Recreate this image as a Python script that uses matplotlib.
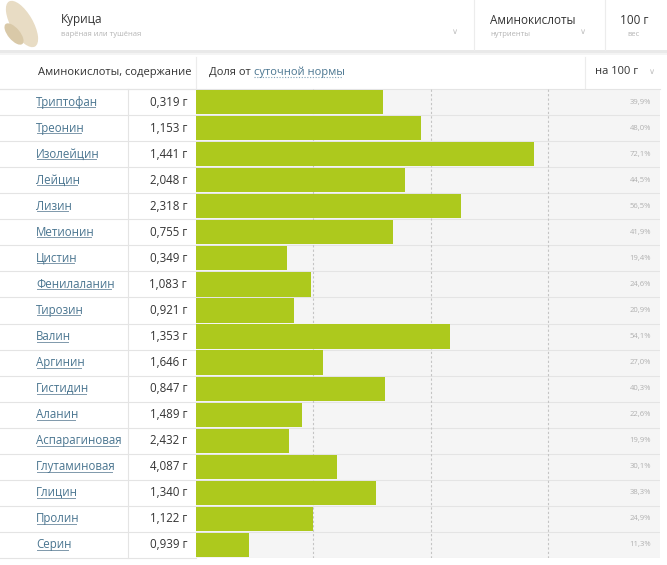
import numpy as np
import matplotlib
matplotlib.use('Agg')
from matplotlib import pyplot as plt
from matplotlib import transforms
from matplotlib.patches import Rectangle, Ellipse

plt.rcParams['font.family'] = ['Open Sans', 'DejaVu Sans']

#################
# the data      #
#################
names = ['Триптофан', 'Треонин', 'Изолейцин', 'Лейцин', 'Лизин', 'Метионин',
         'Цистин', 'Фенилаланин', 'Тирозин', 'Валин', 'Аргинин', 'Гистидин',
         'Аланин', 'Аспарагиновая', 'Глутаминовая', 'Глицин', 'Пролин', 'Серин']
grams = ['0,319 г', '1,153 г', '1,441 г', '2,048 г', '2,318 г', '0,755 г',
         '0,349 г', '1,083 г', '0,921 г', '1,353 г', '1,646 г', '0,847 г',
         '1,489 г', '2,432 г', '4,087 г', '1,340 г', '1,122 г', '0,939 г']
percents = [39.9, 48.0, 72.1, 44.5, 56.5, 41.9,
            19.4, 24.6, 20.9, 54.1, 27.0, 40.3,
            22.6, 19.9, 30.1, 38.3, 24.9, 11.3]
grid_marks = [25, 50, 75]

W, H = 667, 565
fig = plt.figure(figsize=(W / 100, H / 100), dpi=100)

# background layer in pixel coordinates
ax_bg = fig.add_axes([0, 0, 1, 1])
ax_bg.set_xlim(0, W)
ax_bg.set_ylim(H, 0)
ax_bg.axis('off')

# bar area
top, bottom = 89, 558
x0, x1 = 196, 660
px_per_pct = 4.69
ax = fig.add_axes([x0 / W, 1 - bottom / H, (x1 - x0) / W, (bottom - top) / H])
ax.set_facecolor('#f5f5f5')
ax.set_xlim(0, (x1 - x0) / px_per_pct)
ax.set_ylim(len(names) - 0.5, -0.5)
for s in ax.spines.values():
    s.set_visible(False)
ax.set_xticks([])
ax.set_yticks([])

rows = np.arange(len(names))
for i in range(len(names) + 1):
    ax.axhline(i - 0.5, color='#e4e4e4', lw=0.8, zorder=1)
for g in grid_marks:
    ax.axvline(g, color='#c4c4c4', lw=0.8, ls=(0, (2, 2)), zorder=1)
ax.barh(rows, percents, height=0.93, color='#adc91d', zorder=2)

tr = transforms.blended_transform_factory(ax_bg.transData, ax.transData)
for i in rows:
    ax.text(651, i, f'{percents[i]:.1f}%'.replace('.', ','), transform=tr,
            ha='right', va='center', fontsize=5.5, color='#b0b0b0')

# left table
for i in range(len(names) + 1):
    yy = top + i * (bottom - top) / len(names)
    ax_bg.plot([0, x0], [yy, yy], color='#e4e4e4', lw=0.8)
ax_bg.plot([128, 128], [top, bottom], color='#e4e4e4', lw=0.8)

name_texts = []
for i in rows:
    t = ax_bg.text(36, i, names[i], transform=tr, ha='left', va='center',
                   fontsize=8.3, color='#4a7590')
    name_texts.append(t)
    ax_bg.text(187, i, grams[i], transform=tr, ha='right', va='center',
               fontsize=8.3, color='#333333')

# underline the names
fig.canvas.draw()
rend = fig.canvas.get_renderer()
for t in name_texts:
    bb = t.get_window_extent(rend)
    ybase = H - bb.y0 - 1.5
    ax_bg.plot([bb.x0 + 0.5, bb.x1 - 3.5], [ybase, ybase], color='#7f98ab', lw=0.7)

# top card
ax_bg.add_patch(Rectangle((0, 50), W, 3, color='#e9e9e9', lw=0))
ax_bg.add_patch(Rectangle((0, 53), W, 2, color='#f4f4f4', lw=0))
ax_bg.add_patch(Ellipse((22, 24), 22, 52, angle=-30, color='#e8dcc4', lw=0))
ax_bg.add_patch(Ellipse((14, 34), 12, 26, angle=-40, color='#d9c9a8', lw=0))
ax_bg.plot([474, 474], [0, 50], color='#ececec', lw=0.8)
ax_bg.plot([605, 605], [0, 50], color='#ececec', lw=0.8)

ax_bg.text(61, 20, 'Курица', fontsize=8.5, color='#333333', va='center')
ax_bg.text(61, 34, 'варёная или тушёная', fontsize=5.5, color='#b5b5b5', va='center')
ax_bg.text(455, 32, '∨', fontsize=6, color='#c0c0c0', va='center', ha='center')
ax_bg.text(490, 20, 'Аминокислоты', fontsize=8.5, color='#333333', va='center')
ax_bg.text(490, 34, 'нутриенты', fontsize=5.5, color='#b5b5b5', va='center')
ax_bg.text(583, 32, '∨', fontsize=6, color='#c0c0c0', va='center', ha='center')
ax_bg.text(634, 20, '100 г', fontsize=8.5, color='#333333', va='center', ha='center')
ax_bg.text(634, 34, 'вес', fontsize=5.5, color='#b5b5b5', va='center', ha='center')

# second header
ax_bg.plot([196, 196], [57, top], color='#ececec', lw=0.8)
ax_bg.plot([585, 585], [57, top], color='#ececec', lw=0.8)
ax_bg.plot([0, x1], [top, top], color='#e4e4e4', lw=0.8)
ax_bg.text(191, 72, 'Аминокислоты, содержание', fontsize=8, color='#333333',
           va='center', ha='right')
t1 = ax_bg.text(209, 72, 'Доля от ', fontsize=8, color='#333333', va='center')
fig.canvas.draw()
bb = t1.get_window_extent(rend)
t2 = ax_bg.text(bb.x1, 72, 'суточной нормы', fontsize=8, color='#4a7590', va='center')
fig.canvas.draw()
bb2 = t2.get_window_extent(rend)
ax_bg.plot([bb2.x0, bb2.x1 - 3], [H - bb2.y0 - 1, H - bb2.y0 - 1], color='#7fa0b5',
           lw=0.8, ls=(0, (1, 1.5)))
ax_bg.text(595, 72, 'на 100 г', fontsize=8, color='#333333', va='center')
ax_bg.text(652, 72, '∨', fontsize=6, color='#c0c0c0', va='center', ha='center')

fig.savefig('out.png', dpi=100)
